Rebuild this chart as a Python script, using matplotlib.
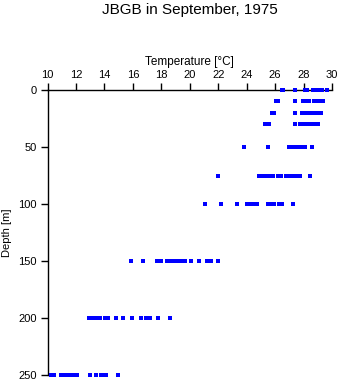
import matplotlib
matplotlib.use("Agg")
import matplotlib.pyplot as plt

plt.rcParams["font.family"] = ["Liberation Sans", "DejaVu Sans"]

# temperature readings (deg C) at each sampled depth (m)
depths = [0, 10, 20, 30, 50, 75, 100, 150, 200, 250]
temps = {
    0:   [26.47, 26.56, 27.39, 28.10, 28.21, 28.63, 28.81, 28.98, 29.16, 29.30, 29.64],
    10:  [26.07, 26.21, 27.39, 27.96, 28.14, 28.35, 28.70, 28.88, 29.09, 29.37],
    20:  [25.79, 25.93, 27.39, 27.89, 28.07, 28.25, 28.42, 28.60, 28.77, 28.95, 29.12, 29.23],
    30:  [25.30, 25.58, 27.39, 27.75, 27.93, 28.10, 28.28, 28.46, 28.63, 28.81, 29.02],
    50:  [23.79, 25.51, 26.98, 27.19, 27.47, 27.68, 27.89, 28.10, 28.60],
    75:  [22.00, 24.86, 25.12, 25.33, 25.61, 25.82, 26.21, 26.42, 26.77, 26.91,
          27.19, 27.37, 27.51, 27.75, 28.46],
    100: [21.09, 22.21, 23.30, 24.00, 24.32, 24.53, 24.70, 25.51, 25.72, 25.93,
          26.28, 26.49, 27.26],
    150: [15.89, 16.70, 17.70, 17.98, 18.42, 18.67, 18.98, 19.19, 19.47, 19.68,
          20.08, 20.68, 21.18, 21.47, 21.98],
    200: [12.91, 13.23, 13.40, 13.68, 14.07, 14.28, 14.79, 15.28, 15.93, 16.60,
          16.89, 17.18, 17.75, 18.58],
    250: [10.25, 10.46, 10.98, 11.19, 11.40, 11.61, 11.82, 12.04, 12.98, 13.40,
          13.75, 13.96, 14.14, 14.98],
}
x_ticks = list(range(10, 31, 2))
y_ticks = [0, 50, 100, 150, 200, 250]

fig = plt.figure(figsize=(3.41, 3.84), dpi=100)
ax = fig.add_axes([0.1393, 0.0227, 0.8343, 0.7429])

for d in depths:
    ax.plot(temps[d], [d] * len(temps[d]), "s", color="#0000ff",
            ms=2.6, mew=0, clip_on=False, zorder=3)

ax.set_xlim(10, 30)
ax.set_ylim(250, 0)
ax.xaxis.tick_top()
ax.xaxis.set_label_position("top")
ax.set_xticks(x_ticks)
ax.set_yticks(y_ticks)
ax.tick_params(labelsize=8, length=5, width=1, color="black", pad=2.5)
ax.spines["right"].set_visible(False)
ax.spines["bottom"].set_visible(False)
ax.spines["top"].set_linewidth(1)
ax.spines["left"].set_linewidth(1)
ax.set_xlabel("Temperature [°C]", fontsize=8.5, labelpad=3)
ax.set_ylabel("Depth [m]", fontsize=8, labelpad=5)

fig.text(0.557, 0.974, "JBGB in September, 1975", ha="center", va="center", fontsize=11)

fig.savefig("out.png", dpi=100)
